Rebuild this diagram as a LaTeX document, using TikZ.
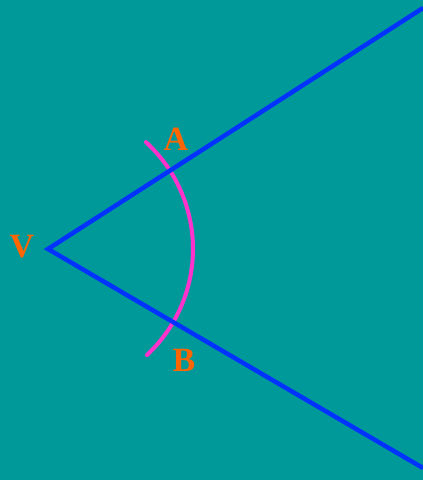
\documentclass[tikz,border=0pt]{standalone}
\usepackage{fontspec}
\setmainfont{Liberation Serif}
\usetikzlibrary{positioning, calc}
\definecolor{teal}{HTML}{009999}
\definecolor{rayblue}{HTML}{0033FF}
\definecolor{arcpink}{HTML}{FF33CC}
\definecolor{labelorange}{HTML}{FF6600}
\tikzset{
  ray/.style={draw=rayblue, line width=4.5pt},
  arcline/.style={draw=arcpink, line width=4pt, line cap=round},
  vlabel/.style={text=labelorange, font=\fontsize{34}{34}\selectfont\bfseries, inner sep=0pt}
}
\begin{document}
\begin{tikzpicture}[x=1pt, y=-1pt]
  % Fond
  \fill[teal] (0,0) rectangle (423,480);
  \useasboundingbox (0,0) rectangle (423,480);
  % Sommet
  \coordinate (vertex) at (48,249);
  \coordinate (upper) at (423,8);
  \coordinate (lower) at (423,468);
  % Arc de cercle
  \draw[arcline] ($(vertex)+(-47.5:145)$) arc[start angle=-47.5, end angle=47, radius=145];
  % Rayons
  \draw[ray] (upper) -- (vertex) -- (lower);
  % Etiquettes
  \node[vlabel] (V) at (22,247) {V};
  \node[vlabel] (A) at (176,139) {A};
  \node[vlabel] (B) at (184,360) {B};
\end{tikzpicture}
\end{document}
